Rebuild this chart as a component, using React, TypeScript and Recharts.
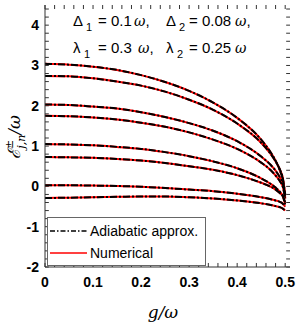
import { LineChart, Line, XAxis, YAxis, ReferenceLine } from "recharts";

// coupling g/ω sampled along the curves
const gValues = [0, 0.05, 0.1, 0.15, 0.2, 0.25, 0.3, 0.35, 0.4, 0.45, 0.47, 0.48, 0.49, 0.495, 0.5];

// energy levels E/ω (numerical and adiabatic overlap)
const level1 = [3.04, 3.02, 2.97, 2.89, 2.76, 2.59, 2.37, 2.08, 1.7, 1.16, 0.84, 0.64, 0.36, 0.17, -0.3];
const level2 = [2.74, 2.73, 2.68, 2.6, 2.5, 2.35, 2.15, 1.9, 1.56, 1.08, 0.8, 0.62, 0.39, 0.21, -0.2];
const level3 = [2.03, 2.02, 1.98, 1.93, 1.84, 1.72, 1.57, 1.38, 1.12, 0.74, 0.53, 0.39, 0.2, 0.07, -0.25];
const level4 = [1.75, 1.74, 1.71, 1.66, 1.58, 1.48, 1.34, 1.16, 0.93, 0.59, 0.4, 0.27, 0.11, -0.01, -0.3];
const level5 = [1.05, 1.04, 1.02, 0.98, 0.93, 0.85, 0.75, 0.62, 0.45, 0.2, 0.06, -0.03, -0.15, -0.24, -0.45];
const level6 = [0.73, 0.72, 0.71, 0.68, 0.64, 0.58, 0.5, 0.41, 0.28, 0.09, -0.01, -0.08, -0.18, -0.24, -0.4];
const level7 = [0.03, 0.03, 0.02, 0.01, -0.01, -0.04, -0.08, -0.12, -0.18, -0.27, -0.32, -0.35, -0.39, -0.43, -0.5];
const level8 = [-0.29, -0.28, -0.27, -0.26, -0.25, -0.25, -0.27, -0.3, -0.35, -0.42, -0.46, -0.49, -0.52, -0.55, -0.6];

const levels = [level1, level2, level3, level4, level5, level6, level7, level8];

const xTicks = [0, 0.1, 0.2, 0.3, 0.4, 0.5];
const yTicks = [-2, -1, 0, 1, 2, 3, 4];

const X_MAX = 0.51;
const Y_MIN = -2;
const Y_MAX = 4.5;

const data = gValues.map((g, i) => {
  const row: Record<string, number> = { g };
  levels.forEach((lv, k) => {
    row["e" + k] = lv[i];
  });
  return row;
});

// minor tick positions (MATLAB-style, inside the box)
const xMinor = Array.from({ length: 26 }, (_, k) => Number((k * 0.02).toFixed(2)));
const yMinor = Array.from({ length: 33 }, (_, k) => Number((Y_MIN + k * 0.2).toFixed(1)));

const sans = "'Liberation Sans', Arial, sans-serif";
const serif = "'DejaVu Serif', serif";
const frame = "#333";

function Omega({ x, y, comma }: { x: number; y: number; comma?: boolean }) {
  return (
    <text x={x} y={y} fontFamily={serif} fontStyle="italic" fontSize={14}>
      ω
      {comma && (
        <tspan fontFamily={sans} fontStyle="normal" fontSize={15}>
          ,
        </tspan>
      )}
    </text>
  );
}

export default function App() {
  return (
    <div style={{ position: "absolute", left: 0, top: 0, width: 300, height: 327, background: "#fff" }}>
      <LineChart width={300} height={327} data={data} margin={{ top: 5, right: 10, bottom: 0, left: 0 }}>
        <XAxis
          dataKey="g"
          type="number"
          domain={[0, X_MAX]}
          ticks={xTicks}
          allowDataOverflow
          height={60}
          tickLine={false}
          tickSize={0}
          tickMargin={10}
          axisLine={{ stroke: frame }}
          tick={{ fill: "#000", fontSize: 14, fontWeight: "bold", fontFamily: sans }}
        />
        <XAxis xAxisId="top" orientation="top" dataKey="g" type="number" domain={[0, X_MAX]} height={0} tick={false} tickLine={false} axisLine={{ stroke: frame }} />
        <YAxis
          type="number"
          domain={[Y_MIN, Y_MAX]}
          ticks={yTicks}
          allowDataOverflow
          width={45}
          tickLine={false}
          tickSize={0}
          tickMargin={6}
          axisLine={{ stroke: frame }}
          tick={{ fill: "#000", fontSize: 14, fontWeight: "bold", fontFamily: sans }}
        />
        <YAxis yAxisId="right" orientation="right" type="number" domain={[Y_MIN, Y_MAX]} width={0} tick={false} tickLine={false} axisLine={{ stroke: frame }} />

        {xMinor.map((x) => (
          <ReferenceLine key={"xb" + x} segment={[{ x, y: Y_MIN }, { x, y: Y_MIN + 0.1 }]} stroke={frame} />
        ))}
        {xMinor.map((x) => (
          <ReferenceLine key={"xt" + x} segment={[{ x, y: Y_MAX }, { x, y: Y_MAX - 0.1 }]} stroke={frame} />
        ))}
        {yMinor.map((y) => (
          <ReferenceLine key={"yl" + y} segment={[{ x: 0, y }, { x: 0.008, y }]} stroke={frame} />
        ))}
        {yMinor.map((y) => (
          <ReferenceLine key={"yr" + y} segment={[{ x: X_MAX, y }, { x: X_MAX - 0.008, y }]} stroke={frame} />
        ))}

        {levels.map((_, k) => (
          <Line key={"num" + k} dataKey={"e" + k} type="monotone" stroke="#ff0000" strokeWidth={2} dot={false} isAnimationActive={false} />
        ))}
        {levels.map((_, k) => (
          <Line key={"adi" + k} dataKey={"e" + k} type="monotone" stroke="#000" strokeWidth={2} strokeDasharray="7 2 2 2" dot={false} isAnimationActive={false} />
        ))}
      </LineChart>

      <svg width={300} height={327} style={{ position: "absolute", left: 0, top: 0, pointerEvents: "none" }}>
        {/* parameter annotation */}
        <g fontFamily={sans} fontSize={15} fill="#000">
          <text x={73} y={26}>Δ</text>
          <text x={86} y={31} fontSize={11}>1</text>
          <text x={98} y={26}>= 0.1</text>
          <Omega x={134} y={26} comma />
          <text x={166} y={26}>Δ</text>
          <text x={179} y={31} fontSize={11}>2</text>
          <text x={189} y={26}>= 0.08</text>
          <Omega x={235} y={26} comma />

          <text x={73} y={53}>λ</text>
          <text x={84} y={58} fontSize={11}>1</text>
          <text x={98} y={53}>= 0.3</text>
          <Omega x={138} y={53} comma />
          <text x={166} y={53}>λ</text>
          <text x={177} y={58} fontSize={11}>2</text>
          <text x={189} y={53}>= 0.25</text>
          <Omega x={235} y={53} />
        </g>

        {/* legend */}
        <rect x={47.5} y={217.5} width={158} height={48} fill="#fff" stroke="#666" />
        <line x1={50} y1={231} x2={87} y2={231} stroke="#000" strokeWidth={1.5} strokeDasharray="5 2 1.5 2" />
        <line x1={50} y1={253} x2={87} y2={253} stroke="#ff0000" strokeWidth={1.5} />
        <g fontFamily={sans} fontSize={14} fill="#000">
          <text x={90} y={236}>Adiabatic approx.</text>
          <text x={90} y={258}>Numerical</text>
        </g>

        {/* axis labels */}
        <text x={163} y={318} textAnchor="middle" fontFamily={serif} fontStyle="italic" fontSize={17} fill="#000">
          g/ω
        </text>
        <text transform="translate(20 137) rotate(-90)" textAnchor="middle" fontFamily={serif} fontStyle="italic" fontSize={17} fill="#000">
          ℰ<tspan fontSize={11} dy={-7}>±</tspan>
          <tspan fontSize={11} dx={-9} dy={12}>j,n</tspan>
          <tspan dy={-5}>/ω</tspan>
        </text>
      </svg>
    </div>
  );
}
